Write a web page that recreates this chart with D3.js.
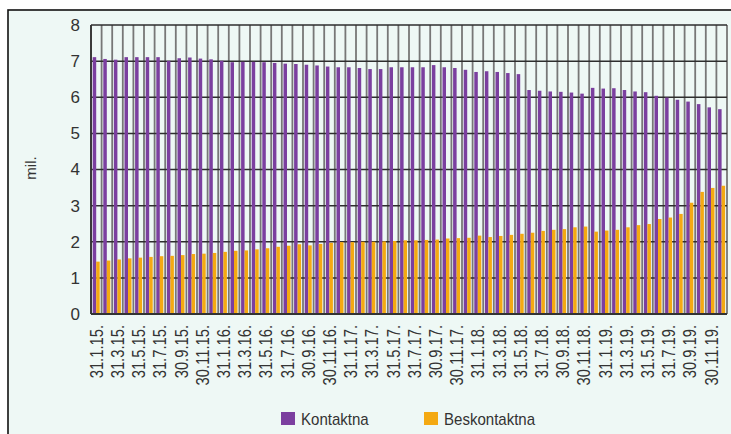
<!DOCTYPE html>
<html>
<head>
<meta charset="utf-8">
<script src="https://cdn.jsdelivr.net/npm/d3@7"></script>
<style>
  body { margin: 0; background: #fff; }
  text { font-family: "Liberation Sans", Arial, sans-serif; fill: #333; }
</style>
</head>
<body>
<div id="chart"></div>
<script>
// month-end dates, Jan 2015 - Dec 2019
var months = [
  '31.1.15.', '28.2.15.', '31.3.15.', '30.4.15.', '31.5.15.', '30.6.15.', '31.7.15.', '31.8.15.', '30.9.15.', '31.10.15.', '30.11.15.', '31.12.15.',
  '31.1.16.', '29.2.16.', '31.3.16.', '30.4.16.', '31.5.16.', '30.6.16.', '31.7.16.', '31.8.16.', '30.9.16.', '31.10.16.', '30.11.16.', '31.12.16.',
  '31.1.17.', '28.2.17.', '31.3.17.', '30.4.17.', '31.5.17.', '30.6.17.', '31.7.17.', '31.8.17.', '30.9.17.', '31.10.17.', '30.11.17.', '31.12.17.',
  '31.1.18.', '28.2.18.', '31.3.18.', '30.4.18.', '31.5.18.', '30.6.18.', '31.7.18.', '31.8.18.', '30.9.18.', '31.10.18.', '30.11.18.', '31.12.18.',
  '31.1.19.', '28.2.19.', '31.3.19.', '30.4.19.', '31.5.19.', '30.6.19.', '31.7.19.', '31.8.19.', '30.9.19.', '31.10.19.', '30.11.19.', '31.12.19.'
];

// millions of cards
var kontaktna = [
  7.11, 7.06, 7.04, 7.11, 7.11, 7.11, 7.11, 7.01, 7.08, 7.10, 7.07, 7.05,
  7.01, 6.97, 6.98, 6.98, 6.97, 6.95, 6.93, 6.92, 6.90, 6.88, 6.85, 6.83,
  6.83, 6.81, 6.78, 6.78, 6.83, 6.83, 6.83, 6.83, 6.89, 6.83, 6.81, 6.76,
  6.70, 6.72, 6.70, 6.67, 6.64, 6.20, 6.18, 6.16, 6.15, 6.13, 6.10, 6.26,
  6.24, 6.25, 6.20, 6.16, 6.14, 6.04, 5.99, 5.93, 5.88, 5.81, 5.72, 5.67
];
var beskontaktna = [
  1.45, 1.48, 1.51, 1.54, 1.56, 1.58, 1.60, 1.61, 1.63, 1.66, 1.67, 1.69,
  1.72, 1.75, 1.76, 1.79, 1.82, 1.86, 1.89, 1.93, 1.90, 1.94, 1.97, 1.99,
  1.99, 2.00, 2.00, 2.01, 2.02, 2.04, 2.04, 2.05, 2.06, 2.09, 2.10, 2.11,
  2.17, 2.13, 2.16, 2.19, 2.22, 2.25, 2.30, 2.33, 2.35, 2.40, 2.42, 2.28,
  2.31, 2.33, 2.40, 2.46, 2.49, 2.63, 2.67, 2.77, 3.08, 3.38, 3.49, 3.55
];
var seriesNames = ['Kontaktna', 'Beskontaktna'];
var colors = ['#7b3f9f', '#f4a912'];
var yTicks = [0, 1, 2, 3, 4, 5, 6, 7, 8];

var W = 731, H = 434;
var margin = { top: 25, right: 4, bottom: 120, left: 91 },
  width = 727 - margin.left,
  height = 314 - margin.top;

var svg = d3.select('#chart')
  .append('svg')
  .attr('width', W)
  .attr('height', H);

// frame + mint background
svg.append('rect')
  .attr('x', 8).attr('y', 10)
  .attr('width', W).attr('height', H)
  .attr('fill', '#eef8f5')
  .attr('stroke', '#111')
  .attr('stroke-width', 1.6);

var g = svg.append('g')
  .attr('transform', 'translate(' + margin.left + ',' + margin.top + ')');

var x = d3.scaleBand()
  .domain(d3.range(months.length))
  .range([0, width])
  .padding(0);

var x1 = d3.scaleBand()
  .domain(seriesNames)
  .range([1.7, x.bandwidth() - 1.9])
  .padding(0);

var y = d3.scaleLinear()
  .domain([0, 8])
  .range([height, 0]);

// vertical grid at each band boundary
g.append('g')
  .selectAll('line')
  .data(d3.range(months.length + 1))
  .enter()
  .append('line')
  .attr('x1', function(i) { return i * x.step(); })
  .attr('x2', function(i) { return i * x.step(); })
  .attr('y1', 0)
  .attr('y2', height)
  .attr('stroke', '#777')
  .attr('stroke-width', 1.8);

// horizontal grid
g.append('g')
  .selectAll('line')
  .data(yTicks.slice(1))
  .enter()
  .append('line')
  .attr('x1', 0)
  .attr('x2', width)
  .attr('y1', function(d) { return y(d); })
  .attr('y2', function(d) { return y(d); })
  .attr('stroke', '#2e2e2e')
  .attr('stroke-width', 1.5);

// bars
var rows = months.map(function(m, i) {
  return { i: i, values: [kontaktna[i], beskontaktna[i]] };
});

var groups = g.append('g')
  .selectAll('g')
  .data(rows)
  .enter()
  .append('g')
  .attr('transform', function(d) { return 'translate(' + x(d.i) + ',0)'; });

groups.selectAll('rect')
  .data(function(d) {
    return d.values.map(function(v, k) { return { key: seriesNames[k], v: v, k: k }; });
  })
  .enter()
  .append('rect')
  .attr('x', function(d) { return x1(d.key); })
  .attr('width', x1.bandwidth())
  .attr('y', function(d) { return y(d.v); })
  .attr('height', function(d) { return height - y(d.v); })
  .attr('fill', function(d) { return colors[d.k]; });

// axes lines
g.append('line')
  .attr('x1', 0).attr('x2', 0).attr('y1', 0).attr('y2', height)
  .attr('stroke', '#333').attr('stroke-width', 1.8);
g.append('line')
  .attr('x1', 0).attr('x2', width).attr('y1', height).attr('y2', height)
  .attr('stroke', '#333').attr('stroke-width', 1.8);

// y tick labels
var yAxis = g.append('g')
  .call(d3.axisLeft(y).tickValues(yTicks).tickSize(0).tickPadding(11));
yAxis.select('.domain').remove();
yAxis.selectAll('text')
  .style('font-size', '17px')
  .attr('fill', '#333');

// x tick labels, every second month
var xAxis = g.append('g')
  .attr('transform', 'translate(0,' + height + ')')
  .call(d3.axisBottom(x)
    .tickValues(d3.range(0, months.length, 2))
    .tickFormat(function(i) { return months[i]; })
    .tickSize(0));
xAxis.select('.domain').remove();
xAxis.selectAll('text')
  .style('font-size', '18px')
  .attr('fill', '#333')
  .attr('text-anchor', 'end')
  .attr('dy', null)
  .attr('y', 0)
  .attr('transform', 'translate(6.5,11) rotate(-90) scale(0.82,1)');

// y title
svg.append('text')
  .attr('transform', 'translate(36,168) rotate(-90)')
  .attr('text-anchor', 'middle')
  .style('font-size', '15px')
  .text('mil.');

// legend
var legendX = [281, 424];
var legend = svg.append('g')
  .selectAll('g')
  .data(seriesNames)
  .enter()
  .append('g')
  .attr('transform', function(d, i) { return 'translate(' + legendX[i] + ',412)'; });
legend.append('rect')
  .attr('width', 14)
  .attr('height', 13)
  .attr('fill', function(d, i) { return colors[i]; });
legend.append('text')
  .attr('transform', 'translate(20,13) scale(0.94,1)')
  .style('font-size', '16px')
  .text(function(d) { return d; });
</script>
</body>
</html>
